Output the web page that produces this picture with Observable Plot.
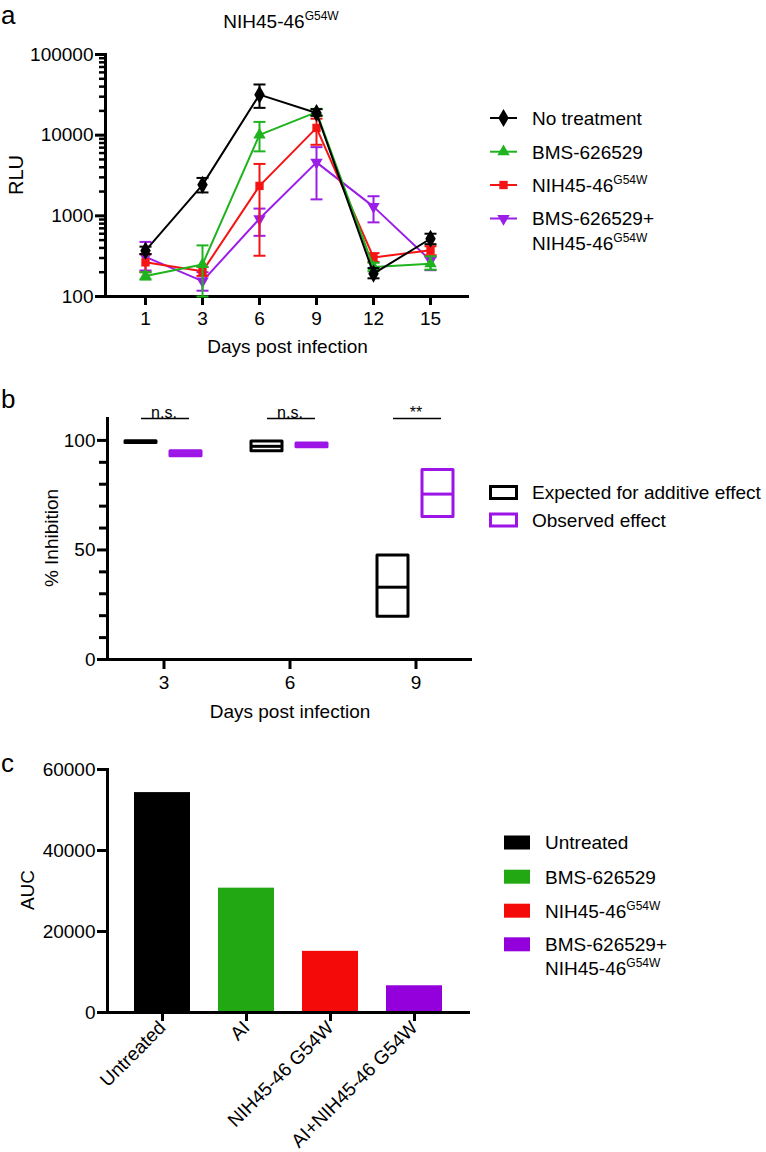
<!DOCTYPE html>
<html>
<head>
<meta charset="utf-8">
<script src="https://cdn.jsdelivr.net/npm/d3@7"></script>
<script src="https://cdn.jsdelivr.net/npm/@observablehq/plot@0.6"></script>
<style>
  body { margin: 0; background: #fff; }
  #page { position: relative; width: 766px; height: 1152px; overflow: hidden; background: #fff; }
  #page > svg { position: absolute; left: 0; }
</style>
</head>
<body>
<div id="page"></div>
<script>
// ---------------- DATA ----------------
// Panel a: RLU over days post infection (mean, lower and upper error bounds)
const days = [1, 3, 6, 9, 12, 15];
const seriesNames = ["No treatment", "BMS-626529", "NIH45-46G54W", "BMS-626529+NIH45-46G54W"];
const noTreatment   = [370, 2420, 31800, 18800, 192, 520];
const noTreatmentLo = [335, 1950, 21800, 17400, 168, 445];
const noTreatmentHi = [415, 2950, 42500, 21000, 225, 600];
const bms   = [180, 250, 10100, 19300, 232, 255];
const bmsLo = [162, 100, 6300, 17500, 205, 215];
const bmsHi = [200, 430, 14600, 21200, 262, 315];
const nih   = [265, 205, 2350, 12300, 305, 375];
const nihLo = [200, 180, 320, 7600, 268, 325];
const nihHi = [335, 232, 4400, 16000, 345, 420];
const combo   = [310, 155, 920, 4600, 1300, 280];
const comboLo = [210, 118, 565, 1600, 830, 212];
const comboHi = [475, 200, 1230, 7100, 1750, 312];
const rluMajorTicks = [100, 1000, 10000, 100000];

// Panel b: % inhibition (floating boxes: min, median, max)
const inhibitionDays = [3, 6, 9];
const expectedMin    = [98.8, 95.1, 19.5];
const expectedMedian = [99.2, 97.3, 33];
const expectedMax    = [99.6, 99.5, 47.5];
const observedMin    = [92.8, 96.9, 65];
const observedMedian = [94.0, 97.7, 75.5];
const observedMax    = [95.1, 98.6, 86.5];
const significance   = ["n.s.", "n.s.", "**"];
const bracketLevel   = [110, 110, 110];
const inhibitionTicks = [0, 50, 100];

// Panel c: AUC
const aucLabels = ["Untreated", "AI", "NIH45-46 G54W", "AI+NIH45-46 G54W"];
const aucValues = [54300, 30700, 15100, 6600];
const aucTicks = [0, 20000, 40000, 60000];

// ---------------- STYLE ----------------
const fontFamily = '"Liberation Sans", Arial, Helvetica, sans-serif';
const lineColors = ["#000000", "#1fb41f", "#f41414", "#9b1ee8"];
const barColors = ["#000000", "#21a812", "#f50a0a", "#9400dc"];
const purpleB = "#9c14e6";

const cap = { draw(ctx, size) { const w = Math.sqrt(size / Math.PI); ctx.moveTo(-w, 0); ctx.lineTo(w, 0); } };
const triDown = { draw(ctx, size) {
  const s3 = Math.sqrt(3); const y = -Math.sqrt(size / (s3 * 3));
  ctx.moveTo(0, -y * 2); ctx.lineTo(-s3 * y, y); ctx.lineTo(s3 * y, y); ctx.closePath();
} };
const symbolsA = ["diamond", "triangle", "square", triDown];
const symbolR = [5.5, 4.6, 4.7, 4.6];

const page = document.getElementById("page");
const baseStyle = { fontFamily, fontSize: "19px", color: "#000", background: "none", overflow: "visible" };

// ---------------- PANEL A ----------------
const seriesA = [
  { mean: noTreatment, lo: noTreatmentLo, hi: noTreatmentHi },
  { mean: bms, lo: bmsLo, hi: bmsHi },
  { mean: nih, lo: nihLo, hi: nihHi },
  { mean: combo, lo: comboLo, hi: comboHi }
].map((s, k) => ({ ...s, name: seriesNames[k], color: lineColors[k], symbol: symbolsA[k], r: symbolR[k] }));

const minorTicksA = rluMajorTicks.slice(0, -1).flatMap(d => [2, 3, 4, 5, 6, 7, 8, 9].map(m => d * m));

const marksA = seriesA.slice().reverse().flatMap(s => {
  const rows = days.map((d, i) => ({ day: d, v: s.mean[i], lo: s.lo[i], hi: s.hi[i] }));
  return [
    Plot.ruleX(rows, { x: "day", y1: "lo", y2: "hi", stroke: s.color, strokeWidth: 2 }),
    Plot.dot(rows, { x: "day", y: "lo", symbol: cap, r: 6, stroke: s.color, fill: "none", strokeWidth: 2 }),
    Plot.dot(rows, { x: "day", y: "hi", symbol: cap, r: 6, stroke: s.color, fill: "none", strokeWidth: 2 }),
    Plot.line(rows, { x: "day", y: "v", stroke: s.color, strokeWidth: 2 }),
    Plot.dot(rows, { x: "day", y: "v", symbol: s.symbol, r: s.r, fill: s.color, stroke: "none" })
  ];
});

const chartA = Plot.plot({
  width: 480, height: 360,
  marginLeft: 105, marginRight: 11, marginTop: 54, marginBottom: 64,
  style: baseStyle,
  x: { type: "point", domain: days, padding: 0.67 },
  y: { type: "log", domain: [100, 100000] },
  marks: [
    Plot.axisY(minorTicksA, { tickSize: 6, strokeWidth: 2.5, tickFormat: () => "", label: null }),
    Plot.axisY(rluMajorTicks, { tickSize: 10, strokeWidth: 3, tickPadding: 2, tickFormat: d => String(d), label: null }),
    Plot.axisX({ tickSize: 9, strokeWidth: 3, tickPadding: 6, label: "Days post infection", labelAnchor: "center", labelOffset: 56 }),
    Plot.frame({ anchor: "left", strokeWidth: 3 }),
    Plot.ruleY([100], { strokeWidth: 3 }),
    ...marksA
  ]
});
chartA.style.top = "0px";
page.appendChild(chartA);

// ---------------- PANEL B ----------------
const rowsB = inhibitionDays.map((d, i) => ({
  day: d,
  eMin: expectedMin[i], eMed: expectedMedian[i], eMax: expectedMax[i],
  oMin: observedMin[i], oMed: observedMedian[i], oMax: observedMax[i],
  sig: significance[i], level: bracketLevel[i]
}));
const minorTicksB = d3.range(10, 100, 10).filter(d => !inhibitionTicks.includes(d));

const chartB = Plot.plot({
  width: 480, height: 372,
  marginLeft: 107, marginRight: 8, marginTop: 58, marginBottom: 73,
  style: baseStyle,
  x: { type: "band", domain: inhibitionDays, paddingInner: 0.36, paddingOuter: 0.1226 },
  y: { domain: [0, 110] },
  marks: [
    Plot.axisY(minorTicksB, { tickSize: 8, strokeWidth: 3, tickFormat: () => "", label: null }),
    Plot.axisY(inhibitionTicks, { tickSize: 10, strokeWidth: 3, tickPadding: 2, tickFormat: d => String(d), label: null }),
    Plot.axisX({ tickSize: 10, strokeWidth: 3, tickPadding: 6, label: "Days post infection", labelAnchor: "center", labelOffset: 58 }),
    Plot.frame({ anchor: "left", strokeWidth: 3 }),
    Plot.ruleY([0], { strokeWidth: 3 }),
    Plot.barY(rowsB, { x: "day", y1: "eMin", y2: "eMax", fill: "none", stroke: "#000", strokeWidth: 3, insetLeft: 2, insetRight: 48, strokeLinejoin: "round" }),
    Plot.tickY(rowsB, { x: "day", y: "eMed", stroke: "#000", strokeWidth: 3, insetLeft: 2, insetRight: 48 }),
    Plot.barY(rowsB, { x: "day", y1: "oMin", y2: "oMax", fill: "none", stroke: purpleB, strokeWidth: 3, insetLeft: 47, insetRight: 3, strokeLinejoin: "round" }),
    Plot.tickY(rowsB, { x: "day", y: "oMed", stroke: purpleB, strokeWidth: 3, insetLeft: 47, insetRight: 3 }),
    Plot.tickY(rowsB, { x: "day", y: "level", stroke: "#000", strokeWidth: 1.5, insetLeft: 18, insetRight: 15 }),
    Plot.text(rowsB, { x: "day", y: "level", text: "sig", lineAnchor: "bottom", dy: -1, fontSize: 16 })
  ]
});
chartB.style.top = "360px";
page.appendChild(chartB);

// ---------------- PANEL C ----------------
const rowsC = aucLabels.map((l, i) => ({ label: l, value: aucValues[i] }));
const chartC = Plot.plot({
  width: 480, height: 412,
  marginLeft: 107, marginRight: 10, marginTop: 29, marginBottom: 140,
  style: baseStyle,
  x: { type: "band", domain: aucLabels, paddingInner: 0.333, paddingOuter: 0.327 },
  y: { domain: [0, 60000] },
  color: { domain: aucLabels, range: barColors },
  marks: [
    Plot.barY(rowsC, { x: "label", y: "value", fill: "label" }),
    Plot.axisY(aucTicks, { tickSize: 10, strokeWidth: 3, tickPadding: 2, tickFormat: d => String(d), label: null }),
    Plot.axisX({ tickSize: 9, strokeWidth: 3, tickPadding: 3, tickRotate: -45, label: null }),
    Plot.frame({ anchor: "left", strokeWidth: 3 }),
    Plot.ruleY([0], { strokeWidth: 3 })
  ]
});
chartC.style.top = "740px";
page.appendChild(chartC);

// ---------------- OVERLAY: panel letters, title, axis titles, legends ----------------
const ov = d3.select(page).append("svg")
  .attr("width", 766).attr("height", 1152)
  .style("top", "0px").style("pointer-events", "none")
  .attr("font-family", fontFamily).attr("fill", "#000");

function supText(g, x, y, base, sup, size, anchor) {
  const t = g.append("text").attr("x", x).attr("y", y).attr("font-size", size).attr("text-anchor", anchor || "start");
  t.append("tspan").text(base);
  t.append("tspan").attr("font-size", 12).attr("dy", -8).text(sup);
  return t;
}

// letters
[["a", 1, 24], ["b", 1, 408], ["c", 1, 772]].forEach(([t, x, y]) =>
  ov.append("text").attr("x", x).attr("y", y).attr("font-size", 26).text(t));

// title
supText(ov, 281, 28, "NIH45-46", "G54W", 19, "middle");

// rotated y-axis titles (centre x, centre y, size)
[["RLU", 16, 175, 20], ["% Inhibition", 51, 538, 19], ["AUC", 27, 890, 19]].forEach(([t, cx, cy, fs]) =>
  ov.append("text").attr("font-size", fs).attr("text-anchor", "middle")
    .attr("transform", `translate(${cx + fs * 0.36},${cy}) rotate(-90)`).text(t));

// legend a
const legA = [118, 151.7, 185, 218.5];
legA.forEach((cy, k) => {
  ov.append("line").attr("x1", 490).attr("x2", 517).attr("y1", cy).attr("y2", cy)
    .attr("stroke", lineColors[k]).attr("stroke-width", 2);
  const symType = typeof symbolsA[k] === "string"
    ? { diamond: d3.symbolDiamond, triangle: d3.symbolTriangle, square: d3.symbolSquare }[symbolsA[k]]
    : symbolsA[k];
  ov.append("path").attr("d", d3.symbol(symType, Math.PI * symbolR[k] ** 2)())
    .attr("transform", `translate(503.5,${cy})`).attr("fill", lineColors[k]);
});
ov.append("text").attr("x", 532).attr("y", legA[0] + 6.8).attr("font-size", 19).text("No treatment");
ov.append("text").attr("x", 532).attr("y", legA[1] + 6.8).attr("font-size", 19).text("BMS-626529");
supText(ov, 532, legA[2] + 6.8, "NIH45-46", "G54W", 19);
ov.append("text").attr("x", 532).attr("y", legA[3] + 6.8).attr("font-size", 19).text("BMS-626529+");
supText(ov, 532, legA[3] + 31.3, "NIH45-46", "G54W", 19);

// legend b
[[492.5, "#000", "Expected for additive effect"], [520, purpleB, "Observed effect"]].forEach(([cy, c, t]) => {
  ov.append("rect").attr("x", 490.5).attr("y", cy - 6).attr("width", 26).attr("height", 12)
    .attr("fill", "none").attr("stroke", c).attr("stroke-width", 3);
  ov.append("text").attr("x", 532).attr("y", cy + 6.8).attr("font-size", 19).text(t);
});

// legend c
const legC = [842.5, 876.7, 910.7, 944.3];
legC.forEach((cy, k) => {
  ov.append("rect").attr("x", 504).attr("y", cy - 7).attr("width", 26).attr("height", 14).attr("fill", barColors[k]);
});
ov.append("text").attr("x", 545).attr("y", legC[0] + 6.8).attr("font-size", 19).text("Untreated");
ov.append("text").attr("x", 545).attr("y", legC[1] + 6.8).attr("font-size", 19).text("BMS-626529");
supText(ov, 545, legC[2] + 6.8, "NIH45-46", "G54W", 19);
ov.append("text").attr("x", 545).attr("y", legC[3] + 6.8).attr("font-size", 19).text("BMS-626529+");
supText(ov, 545, legC[3] + 31, "NIH45-46", "G54W", 19);
</script>
</body>
</html>
